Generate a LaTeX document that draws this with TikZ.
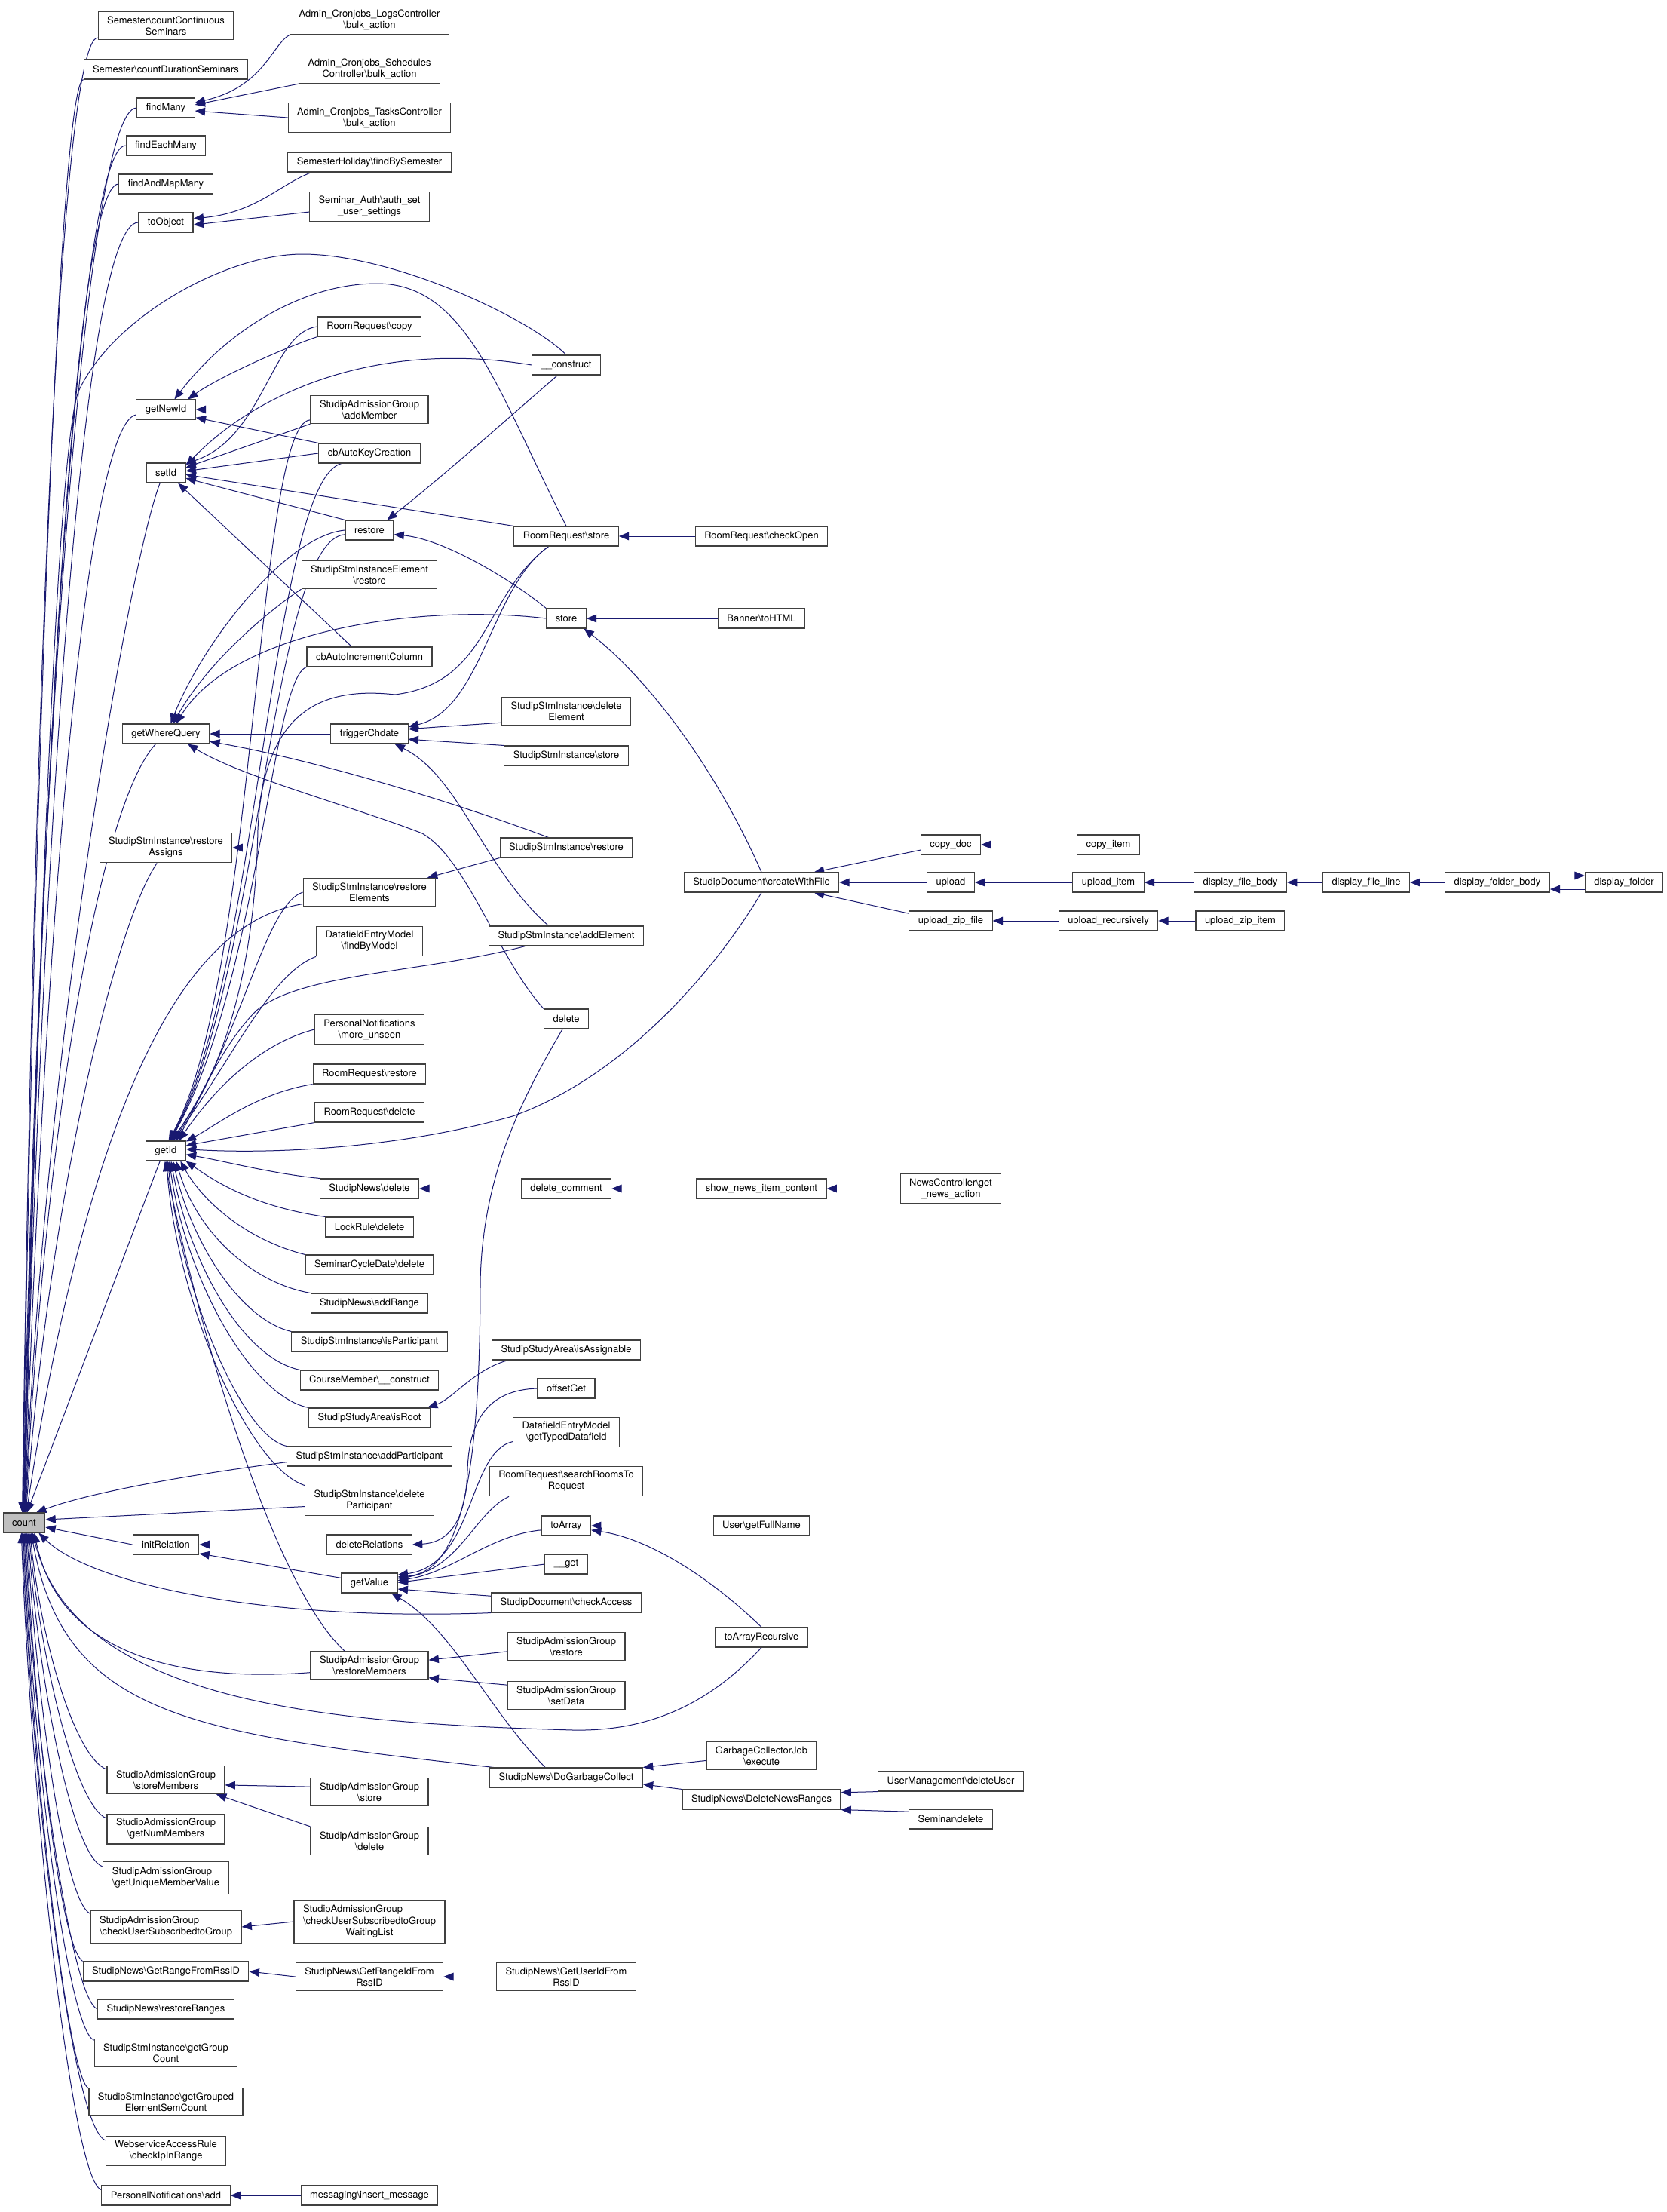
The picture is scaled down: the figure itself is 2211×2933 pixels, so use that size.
\documentclass[tikz,border=0pt]{standalone}
\usepackage{fontspec}
\setmainfont{TeX Gyre Heros}
\usetikzlibrary{arrows.meta}
\definecolor{edgeblue}{RGB}{25,25,112}
\newcommand{\ns}{\textbackslash}
\pgfdeclarelayer{bg}
\pgfsetlayers{bg,main}

\begin{document}
\begin{tikzpicture}[x=0.75pt,y=-0.75pt,
  fn/.style={draw=black!75, line width=0.85pt, fill=white, inner xsep=9pt, inner ysep=4.6pt,
    minimum height=19.5pt, align=center, font=\fontsize{9.7}{11.3}\selectfont},
  call/.style={draw=edgeblue, line width=0.75pt, -{Triangle[length=10pt,width=8pt]}}]

\useasboundingbox (0,0) rectangle (2211,2933);

% the function itself
\node[fn, fill=black!25] (count) at (32,2019) {count};

% direct callers
\node[fn] (cntCont) at (220,34) {Semester\ns countContinuous\\Seminars};
\node[fn] (cntDur) at (220,92) {Semester\ns countDurationSeminars};
\node[fn] (findMany) at (220,143) {findMany};
\node[fn] (findEach) at (220,193) {findEachMany};
\node[fn] (findMap) at (220,244) {findAndMapMany};
\node[fn] (toObject) at (220,295) {toObject};
\node[fn] (getNewId) at (220,543) {getNewId};
\node[fn] (setId) at (220,627) {setId};
\node[fn] (getWhere) at (220,973) {getWhereQuery};
\node[fn] (restAssigns) at (220,1124) {StudipStmInstance\ns restore\\Assigns};
\node[fn] (getId) at (220,1526) {getId};
\node[fn] (initRel) at (220,2048) {initRelation};
\node[fn] (stMembers) at (220,2360) {StudipAdmissionGroup\\\ns storeMembers};
\node[fn] (numMembers) at (220,2425) {StudipAdmissionGroup\\\ns getNumMembers};
\node[fn] (uniqueVal) at (220,2490) {\begin{tabular}{@{}l@{}}StudipAdmissionGroup\\\ns getUniqueMemberValue\end{tabular}};
\node[fn] (chkSub) at (220,2555) {\begin{tabular}{@{}l@{}}StudipAdmissionGroup\\\ns checkUserSubscribedtoGroup\end{tabular}};
\node[fn] (rangeRss) at (220,2614) {StudipNews\ns GetRangeFromRssID};
\node[fn] (restRanges) at (220,2664) {StudipNews\ns restoreRanges};
\node[fn] (grpCount) at (220,2722) {StudipStmInstance\ns getGroup\\Count};
\node[fn] (grpElem) at (220,2787) {StudipStmInstance\ns getGrouped\\ElementSemCount};
\node[fn] (ipRange) at (220,2852) {WebserviceAccessRule\\\ns checkIpInRange};
\node[fn] (pnAdd) at (220,2911) {PersonalNotifications\ns add};

% third column
\node[fn] (logsBulk) at (490,26) {Admin\_Cronjobs\_LogsController\\\ns bulk\_action};
\node[fn] (schedBulk) at (490,91) {Admin\_Cronjobs\_Schedules\\Controller\ns bulk\_action};
\node[fn] (tasksBulk) at (490,156) {Admin\_Cronjobs\_TasksController\\\ns bulk\_action};
\node[fn] (holiday) at (490,215) {SemesterHoliday\ns findBySemester};
\node[fn] (authSet) at (490,274) {Seminar\_Auth\ns auth\_set\\\_user\_settings};
\node[fn] (rrCopy) at (490,433) {RoomRequest\ns copy};
\node[fn] (agAdd) at (490,543) {StudipAdmissionGroup\\\ns addMember};
\node[fn] (autoKey) at (490,601) {cbAutoKeyCreation};
\node[fn] (restore) at (490,703) {restore};
\node[fn] (elemRestore) at (490,762) {StudipStmInstanceElement\\\ns restore};
\node[fn] (autoInc) at (490,871) {cbAutoIncrementColumn};
\node[fn] (trigger) at (490,973) {triggerChdate};
\node[fn] (restElems) at (490,1183) {StudipStmInstance\ns restore\\Elements};
\node[fn] (findByModel) at (490,1248) {DatafieldEntryModel\\\ns findByModel};
\node[fn] (moreUnseen) at (490,1365) {PersonalNotifications\\\ns more\_unseen};
\node[fn] (rrRestore) at (490,1424) {RoomRequest\ns restore};
\node[fn] (rrDelete) at (490,1475) {RoomRequest\ns delete};
\node[fn] (newsDelete) at (490,1576) {StudipNews\ns delete};
\node[fn] (lockDelete) at (490,1627) {LockRule\ns delete};
\node[fn] (cycleDelete) at (490,1677) {SeminarCycleDate\ns delete};
\node[fn] (addRange) at (490,1728) {StudipNews\ns addRange};
\node[fn] (isPart) at (490,1779) {StudipStmInstance\ns isParticipant};
\node[fn] (cmConstruct) at (490,1830) {CourseMember\ns \_\_construct};
\node[fn] (isRoot) at (490,1880) {StudipStudyArea\ns isRoot};
\node[fn] (addPart) at (490,1931) {StudipStmInstance\ns addParticipant};
\node[fn] (delPart) at (490,1990) {StudipStmInstance\ns delete\\Participant};
\node[fn] (delRel) at (490,2048) {deleteRelations};
\node[fn] (getValue) at (490,2099) {getValue};
\node[fn] (restMembers) at (490,2208) {StudipAdmissionGroup\\\ns restoreMembers};
\node[fn] (agStore) at (490,2376) {StudipAdmissionGroup\\\ns store};
\node[fn] (agDelete) at (490,2441) {StudipAdmissionGroup\\\ns delete};
\node[fn] (chkWait) at (490,2548) {\begin{tabular}{@{}l@{}}StudipAdmissionGroup\\\ns checkUserSubscribedtoGroup\\\multicolumn{1}{@{}c@{}}{WaitingList}\end{tabular}};
\node[fn] (rangeIdRss) at (490,2621) {StudipNews\ns GetRangeIdFrom\\RssID};
\node[fn] (insertMsg) at (490,2911) {messaging\ns insert\_message};

% fourth column
\node[fn] (construct) at (751,484) {\_\_construct};
\node[fn] (rrStore) at (751,711) {RoomRequest\ns store};
\node[fn] (store) at (751,820) {store};
\node[fn] (delElem) at (751,943) {StudipStmInstance\ns delete\\Element};
\node[fn] (stmStore) at (751,1002) {StudipStmInstance\ns store};
\node[fn] (stmRestore) at (751,1124) {StudipStmInstance\ns restore};
\node[fn] (addElem) at (751,1241) {StudipStmInstance\ns addElement};
\node[fn] (delete) at (751,1351) {delete};
\node[fn] (delComment) at (751,1576) {delete\_comment};
\node[fn] (isAssign) at (751,1790) {StudipStudyArea\ns isAssignable};
\node[fn] (offsetGet) at (751,1841) {offsetGet};
\node[fn] (typedDf) at (751,1899) {DatafieldEntryModel\\\ns getTypedDatafield};
\node[fn] (searchRooms) at (751,1964) {RoomRequest\ns searchRoomsTo\\Request};
\node[fn] (toArray) at (751,2023) {toArray};
\node[fn] (magicGet) at (751,2074) {\_\_get};
\node[fn] (checkAccess) at (751,2125) {StudipDocument\ns checkAccess};
\node[fn] (agRestore) at (751,2183) {StudipAdmissionGroup\\\ns restore};
\node[fn] (setData) at (751,2248) {StudipAdmissionGroup\\\ns setData};
\node[fn] (garbage) at (751,2357) {StudipNews\ns DoGarbageCollect};
\node[fn] (userIdRss) at (751,2621) {StudipNews\ns GetUserIdFrom\\RssID};

% further right
\node[fn] (checkOpen) at (1010,711) {RoomRequest\ns checkOpen};
\node[fn] (toHTML) at (1010,820) {Banner\ns toHTML};
\node[fn] (createFile) at (1010,1170) {StudipDocument\ns createWithFile};
\node[fn] (showNews) at (1010,1576) {show\_news\_item\_content};
\node[fn] (fullName) at (1010,2023) {User\ns getFullName};
\node[fn] (toArrRec) at (1010,2171) {toArrayRecursive};
\node[fn] (gcExecute) at (1010,2328) {GarbageCollectorJob\\\ns execute};
\node[fn] (delRanges) at (1010,2386) {StudipNews\ns DeleteNewsRanges};
\node[fn] (copyDoc) at (1261,1120) {copy\_doc};
\node[fn] (upload) at (1261,1170) {upload};
\node[fn] (uploadZip) at (1261,1221) {upload\_zip\_file};
\node[fn] (newsAction) at (1261,1576) {NewsController\ns get\\\_news\_action};
\node[fn] (delUser) at (1261,2362) {UserManagement\ns deleteUser};
\node[fn] (semDelete) at (1261,2412) {Seminar\ns delete};
\node[fn] (copyItem) at (1470,1120) {copy\_item};
\node[fn] (uploadItem) at (1470,1170) {upload\_item};
\node[fn] (uploadRec) at (1470,1221) {upload\_recursively};
\node[fn] (fileBody) at (1645,1170) {display\_file\_body};
\node[fn] (zipItem) at (1645,1221) {upload\_zip\_item};
\node[fn] (fileLine) at (1812,1170) {display\_file\_line};
\node[fn] (folderBody) at (1986,1170) {display\_folder\_body};
\node[fn] (folder) at (2154,1170) {display\_folder};

\begin{pgfonlayer}{bg}
\fill[white] (0,0) rectangle (2211,2933);
% into count, from above
\draw[call] (cntCont.190) .. controls (75,55) and (42,1100) .. (count.100);
\draw[call] (cntDur.south west) .. controls (78,112) and (44,1100) .. (count.98);
\draw[call] (findMany.west) .. controls (110,143) and (48,1100) .. (count.96);
\draw[call] (findEach.west) .. controls (100,193) and (50,1150) .. (count.94);
\draw[call] (findMap.west) .. controls (95,244) and (52,1150) .. (count.92);
\draw[call] (toObject.west) .. controls (105,295) and (54,1200) .. (count.90);
\draw[call] (construct.north) .. controls (700,420) and (520,337) .. (401,337) .. controls (300,337) and (150,420) .. (104,519) .. controls (75,600) and (50,1300) .. (count.88);
\draw[call] (getNewId.190) .. controls (110,565) and (56,1300) .. (count.86);
\draw[call] (setId.-120) .. controls (170,750) and (58,1400) .. (count.84);
\draw[call] (getWhere.-135) .. controls (130,1070) and (60,1500) .. (count.82);
\draw[call] (restAssigns.-120) .. controls (150,1230) and (65,1600) .. (count.80);
\draw[call] (restElems.190) .. controls (300,1215) and (140,1320) .. (count.77);
\draw[call] (getId.-120) -- (count.74);
\draw[call] (addPart.184) .. controls (230,1958) and (110,1982) .. (count.40);
\draw[call] (delPart.185) -- (count.8);
\draw[call] (initRel.west) -- (count.-12);
% into count, from below
\draw[call] (checkAccess.south west) .. controls (350,2150) and (120,2100) .. (count.-35);
\draw[call] (restMembers.187) .. controls (250,2230) and (80,2200) .. (count.-45);
\draw[call] (toArrRec.south) .. controls (940,2260) and (860,2296) .. (760,2294) .. controls (450,2285) and (100,2262) .. (count.-50);
\draw[call] (garbage.172) .. controls (250,2298) and (85,2275) .. (count.-55);
\draw[call] (stMembers.170) .. controls (100,2330) and (55,2180) .. (count.-60);
\draw[call] (numMembers.170) .. controls (100,2395) and (54,2200) .. (count.-65);
\draw[call] (uniqueVal.170) .. controls (95,2460) and (52,2230) .. (count.-70);
\draw[call] (chkSub.170) .. controls (85,2520) and (50,2260) .. (count.-75);
\draw[call] (rangeRss.north west) .. controls (80,2580) and (48,2300) .. (count.-80);
\draw[call] (restRanges.west) .. controls (95,2650) and (46,2320) .. (count.-85);
\draw[call] (grpCount.170) .. controls (90,2690) and (45,2340) .. (count.-90);
\draw[call] (grpElem.170) .. controls (90,2755) and (44,2360) .. (count.-95);
\draw[call] (ipRange.170) .. controls (95,2820) and (43,2380) .. (count.-100);
\draw[call] (pnAdd.175) .. controls (95,2890) and (42,2400) .. (count.-105);

% findMany, toObject
\draw[call] (logsBulk.south west) .. controls (360,60) and (350,115) .. (findMany.10);
\draw[call] (schedBulk.south west) -- (findMany.6);
\draw[call] (tasksBulk.west) -- (findMany.-6);
\draw[call] (holiday.-170) .. controls (370,245) and (340,282) .. (toObject.8);
\draw[call] (authSet.185) -- (toObject.-5);

% getNewId, setId
\draw[call] (rrStore.north) .. controls (660,520) and (620,376) .. (500,376) .. controls (400,376) and (300,440) .. (getNewId.50);
\draw[call] (rrCopy.south west) .. controls (380,460) and (290,500) .. (getNewId.25);
\draw[call] (agAdd.west) -- (getNewId.east);
\draw[call] (autoKey.north west) -- (getNewId.-15);
\draw[call] (rrCopy.west) .. controls (360,440) and (350,580) .. (setId.25);
\draw[call] (construct.west) .. controls (500,450) and (340,520) .. (setId.20);
\draw[call] (agAdd.south west) -- (setId.15);
\draw[call] (autoKey.west) -- (setId.5);
\draw[call] (rrStore.north west) -- (setId.-5);
\draw[call] (restore.north west) -- (setId.-15);
\draw[call] (autoInc.150) -- (setId.-40);

% restore, getWhereQuery
\draw[call] (construct.-130) .. controls (690,540) and (590,630) .. (restore.30);
\draw[call] (store.north west) .. controls (680,770) and (590,715) .. (restore.-10);
\draw[call] (restore.west) .. controls (380,710) and (270,850) .. (getWhere.65);
\draw[call] (elemRestore.south west) .. controls (370,800) and (280,870) .. (getWhere.55);
\draw[call] (store.west) .. controls (560,800) and (310,835) .. (getWhere.45);
\draw[call] (trigger.west) -- (getWhere.east);
\draw[call] (stmRestore.150) .. controls (620,1070) and (430,1010) .. (getWhere.-10);
\draw[call] (delete.north west) .. controls (660,1270) and (620,1140) .. (560,1105) .. controls (470,1070) and (320,1030) .. (getWhere.-25);

% triggerChdate
\draw[call] (rrStore.-150) .. controls (650,780) and (640,940) .. (trigger.10);
\draw[call] (delElem.190) -- (trigger.7);
\draw[call] (stmStore.north west) -- (trigger.-8);
\draw[call] (addElem.150) .. controls (640,1150) and (610,1030) .. (trigger.-22);

% store and friends
\draw[call] (checkOpen.west) -- (rrStore.east);
\draw[call] (toHTML.west) -- (store.east);
\draw[call] (createFile.north) .. controls (950,1020) and (860,900) .. (store.-30);
\draw[call] (copyDoc.190) -- (createFile.11);
\draw[call] (upload.west) -- (createFile.east);
\draw[call] (uploadZip.170) -- (createFile.-11);
\draw[call] (copyItem.west) -- (copyDoc.east);
\draw[call] (uploadItem.west) -- (upload.east);
\draw[call] (fileBody.west) -- (uploadItem.east);
\draw[call] (fileLine.west) -- (fileBody.east);
\draw[call] (folderBody.west) -- (fileLine.east);
\draw[call] ([yshift=-6.75pt]folder.west) -- ([yshift=-6.75pt]folderBody.east);
\draw[call] ([yshift=6.75pt]folderBody.east) -- ([yshift=6.75pt]folder.west);
\draw[call] (uploadRec.west) -- (uploadZip.east);
\draw[call] (zipItem.west) -- (uploadRec.east);
\draw[call] (stmRestore.west) -- (restAssigns.east);
\draw[call] (stmRestore.south west) -- (restElems.14);

% getId
\draw[call] (agAdd.190) .. controls (340,560) and (340,1300) .. (getId.75);
\draw[call] (autoKey.-160) .. controls (360,640) and (342,1300) .. (getId.72);
\draw[call] (restore.190) .. controls (360,715) and (344,1300) .. (getId.69);
\draw[call] (autoInc.south west) .. controls (360,900) and (344,1300) .. (getId.66);
\draw[call] (rrStore.-150) .. controls (640,790) and (650,905) .. (524,921) .. controls (440,912) and (350,930) .. (342,1100) .. controls (338,1300) and (290,1430) .. (getId.63);
\draw[call] (restElems.west) .. controls (350,1200) and (320,1380) .. (getId.60);
\draw[call] (findByModel.south west) .. controls (360,1290) and (310,1400) .. (getId.55);
\draw[call] (addElem.-166) .. controls (560,1290) and (400,1290) .. (340,1340) .. controls (290,1390) and (260,1470) .. (getId.45);
\draw[call] (moreUnseen.west) .. controls (340,1385) and (280,1450) .. (getId.38);
\draw[call] (rrRestore.south west) .. controls (340,1450) and (290,1490) .. (getId.25);
\draw[call] (rrDelete.south west) -- (getId.15);
\draw[call] (createFile.south) .. controls (940,1300) and (820,1430) .. (680,1480) .. controls (520,1525) and (350,1530) .. (getId.5);
\draw[call] (newsDelete.north west) .. controls (360,1556) and (300,1540) .. (getId.-10);
\draw[call] (lockDelete.north west) .. controls (340,1600) and (290,1570) .. (getId.-27);
\draw[call] (cycleDelete.north west) .. controls (330,1645) and (270,1595) .. (getId.-35);
\draw[call] (addRange.north west) .. controls (330,1700) and (260,1630) .. (getId.-45);
\draw[call] (isPart.north west) .. controls (320,1750) and (255,1650) .. (getId.-55);
\draw[call] (cmConstruct.north west) .. controls (320,1800) and (250,1670) .. (getId.-63);
\draw[call] (isRoot.north west) .. controls (330,1850) and (245,1690) .. (getId.-71);
\draw[call] (addPart.north west) .. controls (320,1905) and (240,1710) .. (getId.-79);
\draw[call] (delPart.north west) .. controls (330,1945) and (235,1730) .. (getId.-87);
\draw[call] (restMembers.150) .. controls (360,2100) and (260,1750) .. (getId.-95);

% isRoot, deleteRelations, initRelation, getValue
\draw[call] (isAssign.-170) .. controls (630,1815) and (600,1855) .. (isRoot.10);
\draw[call] (offsetGet.west) .. controls (650,1843) and (622,1880) .. (620,1950) .. controls (618,2010) and (600,2045) .. (delRel.east);
\draw[call] (delRel.west) -- (initRel.east);
\draw[call] (getValue.170) -- (initRel.-15);
\draw[call] (delete.-110) .. controls (690,1460) and (640,1560) .. (637,1700) .. controls (637,2000) and (600,2085) .. (getValue.12);
\draw[call] (typedDf.190) .. controls (620,1925) and (630,2075) .. (getValue.16);
\draw[call] (searchRooms.-165) .. controls (630,2005) and (610,2080) .. (getValue.9);
\draw[call] (toArray.190) .. controls (650,2035) and (600,2085) .. (getValue.5);
\draw[call] (magicGet.west) -- (getValue.1);
\draw[call] (checkAccess.175) -- (getValue.-12);
\draw[call] (garbage.154) .. controls (650,2270) and (600,2160) .. (getValue.-25);
\draw[call] (fullName.west) -- (toArray.east);
\draw[call] (toArrRec.north) .. controls (940,2090) and (860,2040) .. (toArray.-10);

% news chain
\draw[call] (delComment.west) -- (newsDelete.east);
\draw[call] (showNews.west) -- (delComment.east);
\draw[call] (newsAction.west) -- (showNews.east);

% admission group, garbage collection, rss
\draw[call] (agRestore.185) -- (restMembers.5);
\draw[call] (setData.170) -- (restMembers.-12);
\draw[call] (gcExecute.185) -- (garbage.north east);
\draw[call] (delRanges.north west) -- (garbage.-5);
\draw[call] (delUser.south west) -- (delRanges.5);
\draw[call] (semDelete.170) -- (delRanges.south east);
\draw[call] (agStore.175) -- (stMembers.-5);
\draw[call] (agDelete.north west) -- (stMembers.-16);
\draw[call] (chkWait.west) -- (chkSub.east);
\draw[call] (rangeIdRss.west) -- (rangeRss.east);
\draw[call] (userIdRss.west) -- (rangeIdRss.east);
\draw[call] (insertMsg.west) -- (pnAdd.east);
\end{pgfonlayer}

\end{tikzpicture}
\end{document}
